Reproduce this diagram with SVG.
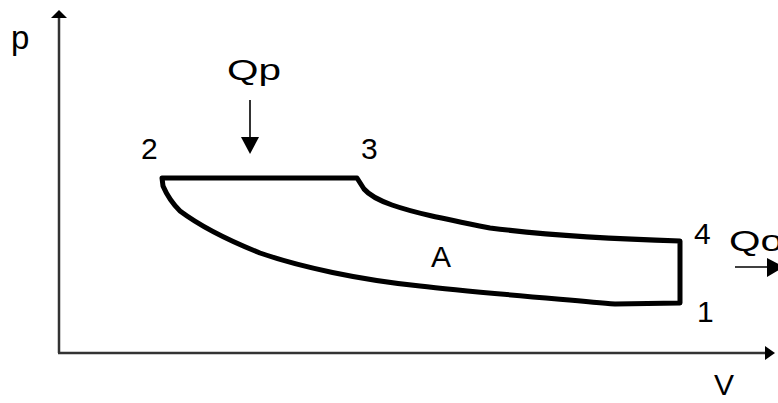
<svg xmlns="http://www.w3.org/2000/svg" width="778" height="403" viewBox="0 0 778 403">
<defs>
<style>
text{font-family:"Liberation Sans",Arial,sans-serif;font-size:30px;fill:#000}
.axis{stroke:#333;stroke-width:2.5;fill:none}
.arr{stroke:#000;stroke-width:1.6;fill:none}
.cycle{stroke:#000;stroke-width:5;fill:none;stroke-linejoin:round}
</style>
</defs>
<g id="axes">
<line class="axis" x1="59" y1="353" x2="59" y2="16"/>
<polygon points="59,10 51,18 67,18" fill="#000"/>
<line class="axis" x1="58" y1="353" x2="767" y2="353"/>
<polygon points="775,353 765,346 765,360" fill="#000"/>
<text x="11" y="49" style="font-size:33px">p</text>
<text x="714" y="395">V</text>
</g>
<g id="cycle">
<path class="cycle" d="M162,178 L357,178 L364,189 C370,196 378,200 392,205 C415,213 440,218 490,228 C530,233 580,238 680,241 L680,303 L615,304 C560,299 470,292 420,286 C360,280 300,267 260,253 C230,241 200,226 180,211 C170,201 166,193 163,186 Z"/>
<text x="431" y="267">A</text>
</g>
<g id="labels">
<text x="141" y="159">2</text>
<text x="361" y="159">3</text>
<text x="694" y="244">4</text>
<text x="697" y="322">1</text>
</g>
<g id="heat">
<text x="227" y="80" textLength="54" lengthAdjust="spacingAndGlyphs">Qp</text>
<line class="arr" x1="250" y1="100" x2="250" y2="139"/>
<polygon points="250,154 241,137 259,137" fill="#000"/>
<text x="729" y="251" textLength="54" lengthAdjust="spacingAndGlyphs">Qo</text>
<line class="arr" x1="735" y1="267" x2="768" y2="267"/>
<polygon points="784,267 767,258 767,277" fill="#000"/>
</g>
</svg>
